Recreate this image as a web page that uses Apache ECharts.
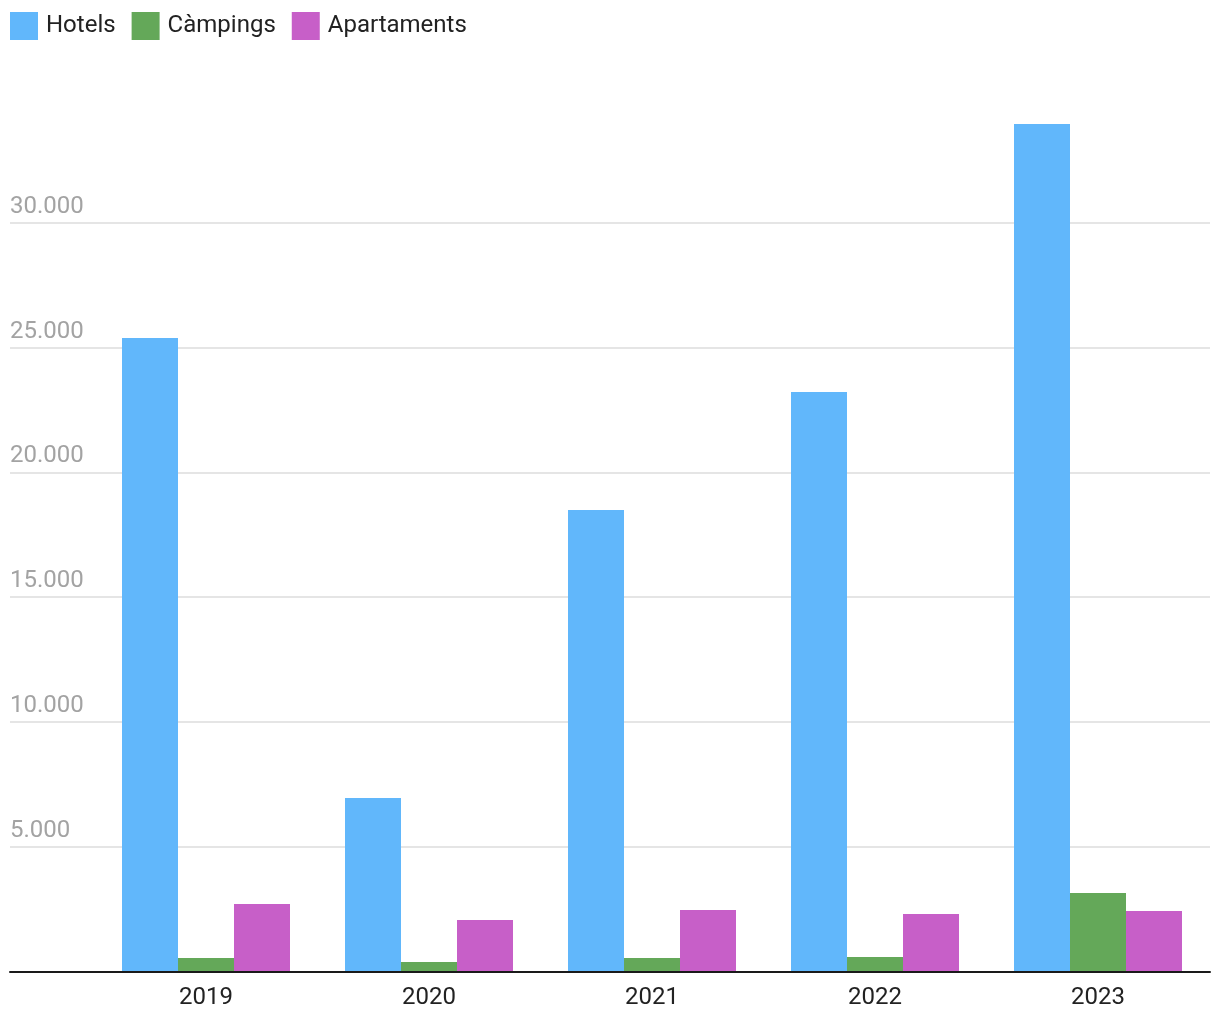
<!DOCTYPE html>
<html>
<head>
<meta charset="utf-8">
<script src="https://cdn.jsdelivr.net/npm/echarts@6/dist/echarts.min.js"></script>
<style>
html,body{margin:0;padding:0;background:#fff;}
#chart{width:1220px;height:1020px;}
</style>
</head>
<body>
<div id="chart"></div>
<script>
const years = ['2019', '2020', '2021', '2022', '2023'];
const hotels = [25380, 6950, 18490, 23220, 33950];
const campings = [540, 380, 540, 580, 3145];
const apartaments = [2700, 2060, 2460, 2300, 2420];
const seriesNames = ['Hotels', 'Càmpings', 'Apartaments'];
const yMax = 35000;
const yStep = 5000;

const fontFamily = 'Roboto, "Noto Sans", sans-serif';
const chart = echarts.init(document.getElementById('chart'));
const gridTop = 97.9, gridBottom = 48.5;

chart.setOption({
  animation: false,
  color: ['#61b7fb', '#64a859', '#c75fc8'],
  legend: {
    left: 5, top: 7,
    itemWidth: 28, itemHeight: 28, itemGap: 16,
    icon: 'rect',
    data: seriesNames,
    textStyle: { fontFamily, fontSize: 24, color: '#222', padding: [4, 0, 0, 3] }
  },
  grid: [
    { left: 10, right: 10, top: gridTop, bottom: gridBottom },
    { left: 94.5, right: 10.5, top: gridTop, bottom: gridBottom }
  ],
  xAxis: [
    {
      gridIndex: 0, type: 'value', min: 0, max: 1, z: 10,
      axisLine: { show: true, lineStyle: { color: '#1a1a1a', width: 2 } },
      axisTick: { show: false }, axisLabel: { show: false }, splitLine: { show: false }
    },
    {
      gridIndex: 1, type: 'category', data: years,
      axisLine: { show: false }, axisTick: { show: false },
      axisLabel: { fontFamily, fontSize: 24, color: '#222', margin: 14 }
    }
  ],
  yAxis: [
    {
      gridIndex: 0, type: 'value', min: 0, max: yMax, interval: yStep,
      axisLine: { show: false }, axisTick: { show: false },
      axisLabel: {
        inside: true, margin: 0, fontFamily, fontSize: 24, color: '#a3a3a3',
        verticalAlign: 'bottom', padding: [0, 0, 4, 0],
        showMinLabel: false, showMaxLabel: false,
        formatter: v => v.toLocaleString('de-DE')
      },
      splitLine: { show: true, showMinLine: false, showMaxLine: false, lineStyle: { color: '#e5e5e5', width: 2 } }
    },
    {
      gridIndex: 1, type: 'value', min: 0, max: yMax, show: false,
      splitLine: { show: false }
    }
  ],
  series: [
    { name: seriesNames[0], type: 'bar', xAxisIndex: 1, yAxisIndex: 1, data: hotels, barWidth: 56, barGap: '0%' },
    { name: seriesNames[1], type: 'bar', xAxisIndex: 1, yAxisIndex: 1, data: campings, barWidth: 56, barGap: '0%' },
    { name: seriesNames[2], type: 'bar', xAxisIndex: 1, yAxisIndex: 1, data: apartaments, barWidth: 56, barGap: '0%' }
  ]
});
</script>
</body>
</html>
